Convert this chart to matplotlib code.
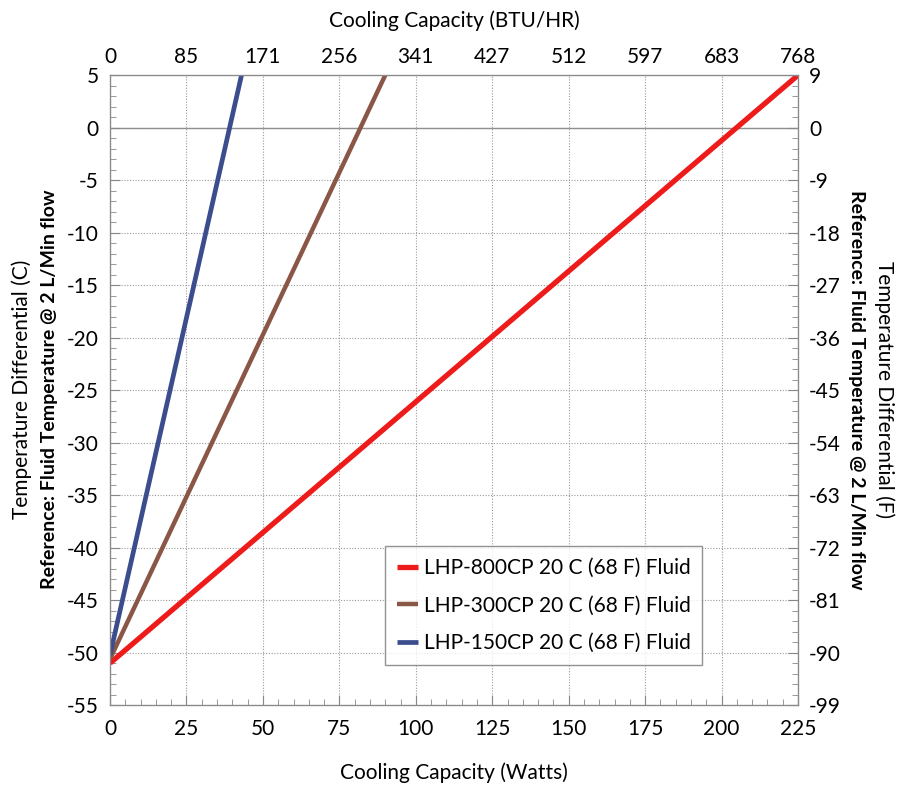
import numpy as np
import matplotlib
matplotlib.use("Agg")
import matplotlib.pyplot as plt
from matplotlib.ticker import MultipleLocator

plt.rcParams['font.family'] = ['Lato', 'DejaVu Sans']
plt.rcParams['axes.unicode_minus'] = False

# Data: end points of each straight line (Watts, delta C)
series_names = ["LHP-800CP 20 C (68 F) Fluid",
                "LHP-300CP 20 C (68 F) Fluid",
                "LHP-150CP 20 C (68 F) Fluid"]
watts_800 = [0, 225]
temp_800 = [-51, 5]
watts_300 = [0, 90]
temp_300 = [-50.6, 5]
watts_150 = [0, 43]
temp_150 = [-50.2, 5]
colors = ["#ee1b1b", "#8a5646", "#3b4d8c"]

watt_ticks = list(range(0, 226, 25))
btu_labels = ["0", "85", "171", "256", "341", "427", "512", "597", "683", "768"]
c_ticks = list(range(-55, 6, 5))
f_labels = ["-99", "-90", "-81", "-72", "-63", "-54", "-45", "-36", "-27",
            "-18", "-9", "0", "9"]

fig = plt.figure(figsize=(8.99, 7.87), dpi=100)
ax = fig.add_axes([0.1224, 0.104, 0.7653, 0.8005])

ax.plot(watts_800, temp_800, color=colors[0], lw=3.8, label=series_names[0], solid_capstyle='butt')
ax.plot(watts_300, temp_300, color=colors[1], lw=3.2, label=series_names[1], solid_capstyle='butt')
ax.plot(watts_150, temp_150, color=colors[2], lw=3.4, label=series_names[2], solid_capstyle='butt')

ax.set_xlim(0, 225)
ax.set_ylim(-55, 5)
ax.set_xticks(watt_ticks)
ax.set_yticks(c_ticks)
ax.xaxis.set_minor_locator(MultipleLocator(5))
ax.yaxis.set_minor_locator(MultipleLocator(1))
ax.grid(True, which='major', linestyle=(0, (1, 1.5)), color='#9a9a9a', lw=0.8)
ax.axhline(0, color='#8a8a8a', lw=1.0, zorder=1)
ax.tick_params(which='both', direction='in', colors='#888888', labelcolor='black',
               labelsize=15)
ax.tick_params(which='major', length=7)
ax.tick_params(axis='y', which='major', pad=8)
ax.tick_params(axis='x', which='major', pad=10)
ax.tick_params(which='minor', length=4)
for sp in ax.spines.values():
    sp.set_color('#8a8a8a')

ax.set_xlabel("Cooling Capacity (Watts)", fontsize=15, labelpad=17)

# top axis in BTU/HR
axt = ax.twiny()
axt.set_xlim(ax.get_xlim())
axt.set_xticks(watt_ticks)
axt.set_xticklabels(btu_labels)
axt.tick_params(axis='x', length=0, labelsize=15, pad=6)
axt.set_xlabel("Cooling Capacity (BTU/HR)", fontsize=15, labelpad=14)
for sp in axt.spines.values():
    sp.set_color('#8a8a8a')

# right axis in F
axr = ax.twinx()
axr.set_ylim(ax.get_ylim())
axr.set_yticks(c_ticks)
axr.set_yticklabels(f_labels)
axr.yaxis.set_minor_locator(MultipleLocator(1))
axr.tick_params(which='both', direction='in', colors='#888888', labelcolor='black',
                labelsize=15)
axr.tick_params(which='major', length=7, pad=8)
axr.tick_params(which='minor', length=4)
for sp in axr.spines.values():
    sp.set_color('#8a8a8a')

fig.text(0.024, 0.505, "Temperature Differential (C)", rotation=90, fontsize=15,
         ha='center', va='center')
fig.text(0.055, 0.505, "Reference: Fluid Temperature @ 2 L/Min flow", rotation=90,
         fontsize=14, fontweight='bold', ha='center', va='center')
fig.text(0.953, 0.505, "Reference: Fluid Temperature @ 2 L/Min flow", rotation=270,
         fontsize=14, fontweight='bold', ha='center', va='center')
fig.text(0.984, 0.505, "Temperature Differential (F)", rotation=270, fontsize=15,
         ha='center', va='center')

leg = ax.legend(loc='upper left', bbox_to_anchor=(0.40, 0.252), fontsize=15,
                frameon=True, fancybox=False, edgecolor='#777777',
                handlelength=1.0, handletextpad=0.3, borderpad=0.55,
                borderaxespad=0, labelspacing=0.85)
leg.get_frame().set_linewidth(1.0)

fig.savefig("out.png", dpi=100)
